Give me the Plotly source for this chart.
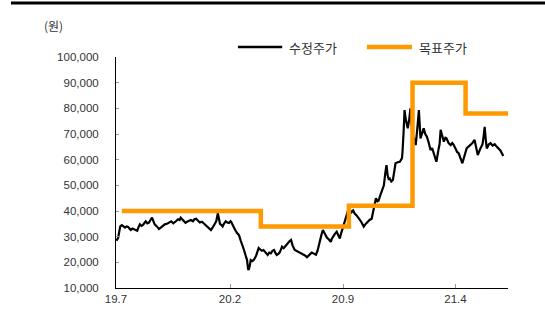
import plotly.graph_objects as go

# 수정주가 (adjusted price)
price_dates = [
    "2019-07-01","2019-07-03","2019-07-05","2019-07-09","2019-07-12","2019-07-15","2019-07-18",
    "2019-07-21","2019-07-24","2019-07-27","2019-07-29","2019-08-01","2019-08-04","2019-08-07",
    "2019-08-10","2019-08-13","2019-08-15","2019-08-18","2019-08-21","2019-08-24","2019-08-26",
    "2019-08-29","2019-09-01","2019-09-04","2019-09-07","2019-09-10","2019-09-12","2019-09-16",
    "2019-09-20","2019-09-24","2019-09-27","2019-10-01","2019-10-05","2019-10-09","2019-10-13",
    "2019-10-17","2019-10-20","2019-10-23","2019-10-26","2019-10-29","2019-10-31","2019-11-03",
    "2019-11-06","2019-11-09","2019-11-12","2019-11-16","2019-11-19","2019-11-23","2019-11-26",
    "2019-11-29","2019-12-02","2019-12-06","2019-12-10","2019-12-14","2019-12-18","2019-12-21",
    "2019-12-24","2019-12-27","2019-12-30","2020-01-02","2020-01-06","2020-01-09","2020-01-11",
    "2020-01-13","2020-01-16","2020-01-18","2020-01-21","2020-01-24","2020-01-27","2020-01-30",
    "2020-02-02","2020-02-04","2020-02-06","2020-02-08","2020-02-11","2020-02-14","2020-02-18",
    "2020-02-21","2020-02-24","2020-02-27","2020-03-02","2020-03-04","2020-03-06","2020-03-07",
    "2020-03-09","2020-03-11","2020-03-14","2020-03-17","2020-03-21","2020-03-24","2020-03-26",
    "2020-03-29","2020-04-01","2020-04-04","2020-04-07","2020-04-10","2020-04-12","2020-04-15",
    "2020-04-18","2020-04-21","2020-04-24","2020-04-27","2020-04-29","2020-05-02","2020-05-05",
    "2020-05-09","2020-05-12","2020-05-14","2020-05-17","2020-05-20","2020-05-23","2020-05-26",
    "2020-05-29","2020-06-02","2020-06-05","2020-06-08","2020-06-11","2020-06-13","2020-06-16",
    "2020-06-19","2020-06-22","2020-06-25","2020-06-28","2020-07-01","2020-07-04","2020-07-06",
    "2020-07-09","2020-07-12","2020-07-15","2020-07-19","2020-07-22","2020-07-25","2020-07-28",
    "2020-07-30","2020-08-02","2020-08-05","2020-08-09","2020-08-11","2020-08-14","2020-08-17",
    "2020-08-20","2020-08-23","2020-08-26","2020-08-28","2020-08-31","2020-09-03","2020-09-06",
    "2020-09-09","2020-09-12","2020-09-15","2020-09-17","2020-09-20","2020-09-23","2020-09-27",
    "2020-10-01","2020-10-04","2020-10-06","2020-10-10","2020-10-13","2020-10-16","2020-10-19",
    "2020-10-21","2020-10-25","2020-10-29","2020-11-02","2020-11-05","2020-11-07","2020-11-10",
    "2020-11-13","2020-11-15","2020-11-17","2020-11-20","2020-11-22","2020-11-24","2020-11-26",
    "2020-11-28","2020-12-01","2020-12-04","2020-12-07","2020-12-09","2020-12-13","2020-12-17",
    "2020-12-21","2020-12-22","2020-12-24","2020-12-26","2020-12-28","2020-12-30","2021-01-01",
    "2021-01-04","2021-01-06","2021-01-08","2021-01-10","2021-01-13","2021-01-16","2021-01-19",
    "2021-01-22","2021-01-25","2021-01-28","2021-01-31","2021-02-03","2021-02-06","2021-02-09",
    "2021-02-13","2021-02-16","2021-02-19","2021-02-22","2021-02-24","2021-02-28","2021-03-02",
    "2021-03-04","2021-03-07","2021-03-10","2021-03-13","2021-03-15","2021-03-19","2021-03-23",
    "2021-03-26","2021-03-28","2021-04-01","2021-04-04","2021-04-07","2021-04-11","2021-04-14",
    "2021-04-18","2021-04-22","2021-04-25","2021-04-29","2021-05-03","2021-05-07","2021-05-10",
    "2021-05-13","2021-05-18","2021-05-22","2021-05-24","2021-05-26","2021-05-28","2021-05-30",
    "2021-06-03","2021-06-06","2021-06-10","2021-06-14","2021-06-18","2021-06-21","2021-06-25",
    "2021-06-29","2021-07-01",
]
price_values = [
    29000,28800,29500,34000,34500,33800,33500,
    34000,33800,33000,32600,33200,33000,32800,
    32300,34000,34800,34200,34600,35500,36000,
    35200,35500,36500,37400,35800,34800,34000,
    33000,33600,34200,34800,35000,35500,36000,
    35200,35600,36200,36800,36500,37400,36600,
    36200,35400,35800,36400,36500,36000,36800,
    37000,36300,35500,35800,35000,34500,33800,
    33000,32600,33500,34500,36000,39100,36500,
    35000,34500,34000,35200,36000,35500,35300,
    36000,35500,34500,33400,32500,31500,30500,
    28500,27000,25000,22200,21000,17400,17000,
    18500,20900,20500,21000,22500,24000,25600,
    25000,24500,24800,24000,23500,22900,23800,
    23500,24500,24800,23500,22900,23300,24000,
    26100,25500,26000,26800,27500,28200,28700,
    26500,24800,24500,24200,23800,23500,23200,
    23000,22600,22000,22800,23200,23800,23600,
    23200,23000,24500,28700,30500,32600,31500,
    30500,29500,29000,28000,29200,30500,31200,
    31900,30500,29300,31000,33000,35000,37100,
    39000,41200,40000,39500,40200,39000,38200,
    37300,36200,35500,33900,34800,35500,36200,
    36500,37000,40400,45000,43800,44000,46000,
    47500,49000,50000,55300,57900,54000,52500,
    52700,51500,52100,56000,58600,59000,59200,
    60500,62500,70000,79300,76000,74000,72200,
    76000,80000,74000,69600,68000,65700,72000,
    79300,68300,70500,72200,70000,69000,67000,
    63800,64500,62500,61000,59200,64000,66000,
    71600,69000,67000,68500,68300,66500,65700,
    66500,66000,64400,63000,62500,60500,58600,
    61500,64400,65000,65700,66500,67700,64000,
    61800,64400,66000,69000,72800,68000,64400,
    66000,66400,65500,66000,65000,64400,63500,
    61800,62000,
]

# 목표주가 (target price)
target_dates = ["2019-07-12","2020-03-30","2020-09-12","2021-01-10","2021-04-20","2021-07-10"]
target_values = [40000, 34000, 42000, 90000, 78000, 78000]

x_tick_dates = ["2019-07-01","2020-02-01","2020-09-01","2021-04-01"]
x_tick_labels = ["19.7","20.2","20.9","21.4"]
y_ticks = list(range(10000, 100001, 10000))

series_names = ["수정주가", "목표주가"]
series_colors = ["#000000", "#FF9900"]

fig = go.Figure()
fig.add_trace(go.Scatter(
    x=price_dates, y=price_values, name=series_names[0], mode="lines",
    line=dict(color=series_colors[0], width=2.2),
))
fig.add_trace(go.Scatter(
    x=target_dates, y=target_values, name=series_names[1], mode="lines",
    line=dict(color=series_colors[1], width=4.5, shape="hv"),
))

# manual legend (line samples + labels) placed above the plot
legend_shapes = []
legend_annotations = []
legend_x0 = [0.311, 0.640]
legend_widths = [0.113, 0.115]
legend_line_w = [2.5, 4.5]
for i, name in enumerate(series_names):
    legend_shapes.append(dict(
        type="line", xref="paper", yref="paper",
        x0=legend_x0[i], x1=legend_x0[i] + legend_widths[i], y0=1.043, y1=1.043,
        line=dict(color=series_colors[i], width=legend_line_w[i]),
    ))
    legend_annotations.append(dict(
        text=name, xref="paper", yref="paper",
        x=legend_x0[i] + legend_widths[i] + 0.013, y=1.043,
        xanchor="left", yanchor="middle", showarrow=False,
        font=dict(family="Noto Sans CJK KR", size=13, color="#333333"),
    ))

fig.update_layout(
    width=545, height=336,
    margin=dict(l=116, r=37, t=57, b=48),
    paper_bgcolor="white", plot_bgcolor="white",
    font=dict(family="Liberation Sans, Arial, sans-serif", size=11.5, color="#333333"),
    showlegend=False,
    xaxis=dict(
        type="date", range=["2019-07-01", "2021-07-09"],
        tickvals=x_tick_dates, ticktext=x_tick_labels,
        showgrid=False, zeroline=False,
        showline=True, linecolor="#000000", linewidth=1,
        ticks="inside", ticklen=4, tickcolor="#999999",
        tickfont=dict(size=11.5),
    ),
    yaxis=dict(
        range=[10000, 100000], tickvals=y_ticks,
        tickformat=",d", showgrid=False, zeroline=False,
        showline=True, linecolor="#000000", linewidth=1,
        ticks="inside", ticklen=3, tickcolor="#999999",
        ticklabelstandoff=14,
        tickfont=dict(size=11.5),
    ),
    shapes=[dict(
        type="line", xref="paper", yref="paper",
        x0=-0.268, x1=1.1, y0=1.234, y1=1.234,
        line=dict(color="#000000", width=3),
    )] + legend_shapes,
    annotations=[dict(
        text="(원)", xref="paper", yref="paper",
        x=-0.16, y=1.135, xanchor="center", yanchor="middle",
        showarrow=False,
        font=dict(family="Noto Sans CJK KR", size=12, color="#333333"),
    )] + legend_annotations,
)

fig.write_html("out.html")
